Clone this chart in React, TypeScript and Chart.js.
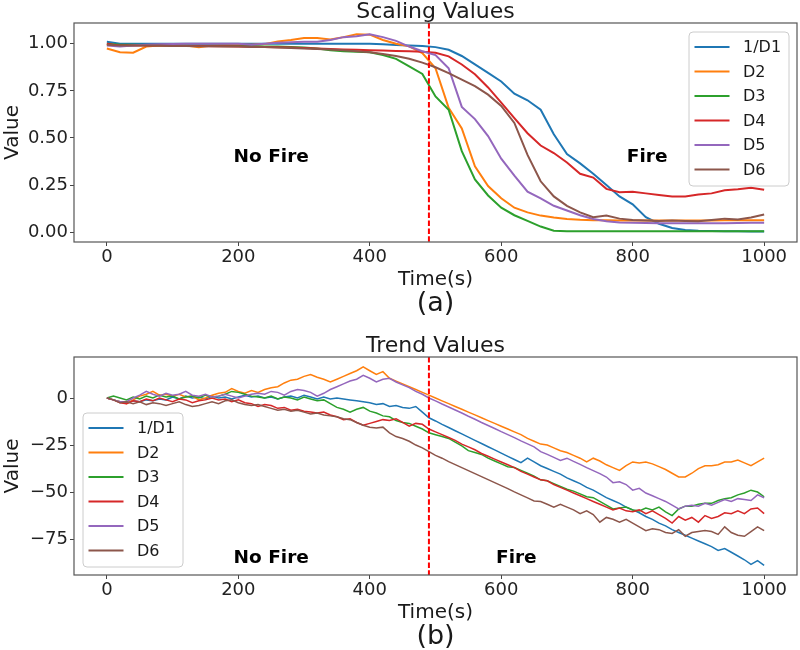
import React, { useEffect, useRef } from "react";
import { Chart, registerables } from "chart.js";

Chart.register(...registerables);

const FONT = '"DejaVu Sans", "Liberation Sans", sans-serif';
const SERIES_NAMES = ["1/D1", "D2", "D3", "D4", "D5", "D6"];
const SERIES_COLORS = ["#1f77b4", "#ff7f0e", "#2ca02c", "#d62728", "#9467bd", "#8c564b"];
const FIRE_TIME = 490;
const X_TICKS = [0, 200, 400, 600, 800, 1000];
const SCALING_Y_TICKS = [0, 0.25, 0.5, 0.75, 1.0];
const TREND_Y_TICKS = [-75, -50, -25, 0];

// ---------- (a) Scaling values, sampled every 20 s ----------
const TIME_SCALING = [0, 20, 40, 60, 80, 100, 120, 140, 160, 180, 200, 220, 240, 260, 280, 300, 320, 340, 360, 380, 400, 420, 440, 460, 480, 500, 520, 540, 560, 580, 600, 620, 640, 660, 680, 700, 720, 740, 760, 780, 800, 820, 840, 860, 880, 900, 920, 940, 960, 980, 1000];

const SCALING_D1 = [1.01, 1.0, 1.0, 1.0, 1.0, 1.0, 1.0, 1.0, 1.0, 1.0,
  1.0, 1.0, 1.0, 1.0, 1.0, 1.0, 1.0, 1.0, 1.0, 1.0,
  1.0, 0.997, 0.993, 0.99, 0.988, 0.982, 0.968, 0.935, 0.89, 0.845,
  0.8, 0.735, 0.7, 0.65, 0.52, 0.415, 0.365, 0.31, 0.25, 0.19,
  0.148, 0.08, 0.045, 0.022, 0.012, 0.008, 0.006, 0.005, 0.005, 0.004,
  0.004];
const SCALING_D2 = [0.975, 0.955, 0.952, 0.985, 0.99, 0.99, 0.99, 0.982, 0.99, 0.993,
  0.995, 0.995, 0.998, 1.012, 1.02, 1.03, 1.03, 1.022, 1.035, 1.05,
  1.048, 1.02, 1.0, 0.986, 0.95, 0.87, 0.66, 0.55, 0.35, 0.245,
  0.18, 0.13, 0.105, 0.088, 0.078, 0.07, 0.066, 0.064, 0.063, 0.062,
  0.062, 0.062, 0.062, 0.062, 0.062, 0.062, 0.062, 0.063, 0.063, 0.064,
  0.064];
const SCALING_D3 = [1.0, 0.995, 0.995, 0.993, 0.99, 0.99, 0.99, 0.99, 0.99, 0.99,
  0.988, 0.988, 0.985, 0.985, 0.983, 0.98, 0.975, 0.965, 0.96, 0.957,
  0.955, 0.94, 0.92, 0.88, 0.84, 0.72, 0.65, 0.43, 0.28, 0.195,
  0.13, 0.09, 0.06, 0.03, 0.008, 0.005, 0.005, 0.005, 0.005, 0.005,
  0.005, 0.005, 0.005, 0.005, 0.005, 0.005, 0.005, 0.005, 0.005, 0.005,
  0.005];
const SCALING_D4 = [1.0, 0.99, 0.99, 0.99, 0.99, 0.99, 0.988, 0.988, 0.987, 0.986,
  0.985, 0.984, 0.983, 0.981, 0.98, 0.978, 0.975, 0.972, 0.97, 0.968,
  0.966, 0.964, 0.962, 0.96, 0.958, 0.952, 0.933, 0.89, 0.838, 0.768,
  0.688, 0.605, 0.525, 0.46, 0.42, 0.37, 0.31, 0.29, 0.23, 0.212,
  0.214, 0.206, 0.198, 0.19, 0.19, 0.2, 0.206, 0.222, 0.228, 0.236,
  0.225];
const SCALING_D5 = [0.99, 0.985, 0.99, 0.995, 0.997, 0.998, 1.0, 1.0, 1.0, 1.0,
  1.0, 0.995, 1.0, 1.005, 1.008, 1.01, 1.01, 1.02, 1.035, 1.04,
  1.05, 1.035, 1.015, 0.985, 0.96, 0.94, 0.87, 0.665, 0.6, 0.51,
  0.39, 0.3, 0.215, 0.18, 0.14, 0.115, 0.09, 0.07, 0.058, 0.052,
  0.05, 0.049, 0.048, 0.048, 0.048, 0.048, 0.048, 0.048, 0.049, 0.05,
  0.05];
const SCALING_D6 = [0.995, 0.99, 0.99, 0.99, 0.99, 0.988, 0.988, 0.987, 0.986, 0.985,
  0.985, 0.983, 0.982, 0.98, 0.978, 0.975, 0.972, 0.97, 0.965, 0.96,
  0.955, 0.945, 0.935, 0.92, 0.9, 0.875, 0.844, 0.81, 0.775, 0.73,
  0.67, 0.58, 0.41, 0.27, 0.19, 0.14, 0.105, 0.08, 0.088, 0.072,
  0.065, 0.062, 0.06, 0.062, 0.06, 0.058, 0.065, 0.072, 0.068, 0.078,
  0.094];

// ---------- (b) Trend values, sampled every 10 s ----------
const TIME_TREND = [0, 10, 20, 30, 40, 50, 60, 70, 80, 90,
  100, 110, 120, 130, 140, 150, 160, 170, 180, 190,
  200, 210, 220, 230, 240, 250, 260, 270, 280, 290,
  300, 310, 320, 330, 340, 350, 360, 370, 380, 390,
  400, 410, 420, 430, 440, 450, 460, 470, 480, 490,
  500, 510, 520, 530, 540, 550, 560, 570, 580, 590,
  600, 610, 620, 630, 640, 650, 660, 670, 680, 690,
  700, 710, 720, 730, 740, 750, 760, 770, 780, 790,
  800, 810, 820, 830, 840, 850, 860, 870, 880, 890,
  900, 910, 920, 930, 940, 950, 960, 970, 980, 990,
  1000];

const TREND_D1 = [0, -1, -2, -2.5, -1.5, -2, -1, -1.5, -0.5, -1,
  0.5, -0.5, 1, 0, 0.5, -0.5, 1, 0, 0.5, -0.5,
  0.5, 1.5, 0.5, 1, 0, 0.5, -0.5, 0.5, 1, 0,
  1.5, 0.5, -0.5, 0.5, -0.5, 0, -0.5, -1, -1.5, -2,
  -2.5, -3.5, -3, -4.5, -4, -5, -5.5, -4.5, -7.5, -10.5,
  -12.2, -14, -15.7, -17.4, -19.1, -20.8, -22.5, -24.2, -25.9, -27.6,
  -29.3, -31, -32.7, -34.4, -32, -34, -36, -37.5, -39, -40.5,
  -42.5, -44, -45.5, -47.5, -49, -51, -53, -54.5, -56, -58,
  -59.5, -61, -63, -64.5, -66.5, -68, -70, -71.5, -73, -74.5,
  -76, -77.5, -79, -81, -80, -82, -84, -86, -88.5, -86.5,
  -89];
const TREND_D2 = [0, -1, -2, -3, -1, 1, 2, 3.5, 1.5, 2,
  1, 2, 0.5, 1, -1, 0, 1.5, 2.5, 3, 5,
  3.5, 2.5, 4, 3, 4.5, 5.5, 6, 8, 9.5, 10,
  11.5, 12.5, 11, 10, 8.5, 10, 11.5, 13, 14.5, 16.5,
  14.5, 12.5, 14, 10.5, 9, 7.5, 6, 4.5, 3, 1.5,
  0, -1.5, -3, -4.5, -6, -7.5, -9, -10.5, -12, -13.5,
  -15, -16.5, -18, -19.5, -21.5, -23, -24.5, -25, -26.5, -28,
  -29, -30.5, -32, -34, -32, -33.5, -35.5, -37, -38.5, -36,
  -34, -34.5, -34, -35, -36.5, -38, -40, -42, -42, -40,
  -37.5, -36, -36, -35.5, -34, -34, -33, -34.5, -36, -34,
  -32];
const TREND_D3 = [0, 1, 0, -1, 0.5, -0.5, 1, 0, 1.5, 0.5,
  1, -0.5, 0.5, 1, 0, 1.5, 0.5, 1, 2, 3.5,
  3, 2, 1, 0.5, 0, 1, -0.5, 0.5, 0, -1,
  0.5, -0.5, -1.5, -1, -3, -5, -6, -7.5, -6, -5,
  -7, -8, -9.5, -10, -12, -13, -13.5, -15, -16.5, -18.5,
  -19.5, -20.5, -21.5, -23.5, -25.5, -28, -29, -30, -32, -33.5,
  -35, -36.5, -37, -38.5, -40, -41.5, -43.5, -44, -45.5, -47,
  -48.5, -49.5, -51, -52.5, -53, -55, -57, -59, -58.5, -58,
  -59.5, -60, -58.5, -59.5, -58, -60.5, -62.5, -59, -57.5, -57.5,
  -56.5, -56, -56, -54.5, -53.5, -53, -51.5, -50.5, -49, -50,
  -52.5];
const TREND_D4 = [0, -1, -2.5, -3, -1.5, -2, -0.5, -1.5, 0, -1,
  -2, -0.5, -1, -2.5, -1.5, -1, 0, -1, -0.5, -2,
  -1, -2.5, -3, -4.5, -3.5, -4, -5.5, -5, -6.5, -6,
  -7, -7.5, -8, -7.5, -9, -10, -11.5, -11, -13, -14.5,
  -13.5, -12.5, -11.5, -12, -11, -13, -15, -13.5, -14, -16.5,
  -18, -19.5, -21, -22.5, -24.5, -26, -27.5, -29.5, -31, -32.5,
  -34, -35.5, -37, -39, -40.5, -42, -43.5, -44, -46, -47.5,
  -49, -50.5, -52, -53.5, -55, -56.5, -58, -59.5, -58.5, -60,
  -60.5, -59.5, -61.5, -60, -62, -64, -66.5, -63, -65, -63.5,
  -66, -62.5, -64, -63, -61, -61.5, -60, -61.5, -59, -58.5,
  -61.5];
const TREND_D5 = [0, -1, -2, -2, 0, 1.5, 3.5, 2, 1, 2.5,
  1.5, 2, 3.5, 1.5, 1, 2, 0.5, 1, 2, 1,
  0, 1, 2, 2.5, 2, 3.5, 3, 1.5, 3.5, 4.5,
  4, 3, 1, 2.5, 4.5, 6, 7.5, 9, 10, 12,
  10.5, 8.5, 10, 10.5, 8.5, 7, 5.5, 3.5, 2, 0,
  -1.5, -3.2, -4.8, -6.4, -8, -9.7, -11.3, -13, -14.6, -16.2,
  -17.9, -19.5, -21.1, -22.8, -24.4, -26, -28.5, -30, -31.6, -33.2,
  -32, -33.7, -35.3, -37, -38.6, -40.2, -42, -45, -44.5, -46,
  -49, -48, -50.5, -52, -53.5, -55, -57, -59, -57.5, -57,
  -57.5, -56, -57, -55.5, -54, -55, -53.5, -54, -54.5, -51.5,
  -53];
const TREND_D6 = [0, -1, -2.5, -2, -3, -2, -3.5, -2.5, -3, -4,
  -3, -2, -3.5, -4.5, -4, -3, -2, -3, -1.5, -1,
  -2.5, -3.5, -4, -3.5, -4.5, -5.5, -6.5, -6, -7, -6.5,
  -7.5, -8.5, -8, -9, -9.5, -10, -11, -11.5, -13, -14.5,
  -15.5, -16, -15.5, -18.5, -20.5, -21.5, -23, -25, -26.5, -28.5,
  -30.5, -32, -33.8, -35.4, -37, -38.6, -40.2, -41.8, -43.4, -45,
  -46.6, -48.2, -49.9, -51.5, -53.1, -54.7, -55, -56.5, -58, -56.5,
  -58, -59.5, -61.5, -60, -62, -66, -63.5, -64.5, -66, -64.5,
  -66.5, -68.5, -70.5, -69.5, -70, -71.5, -72, -70, -73.5, -71.5,
  -71, -70.5, -71, -72.5, -68.5, -71.5, -73, -73.5, -71, -68.5,
  -70.5];

type PanelSpec = {
  title: string;
  tag: string;
  times: number[];
  series: number[][];
  yMin: number;
  yMax: number;
  yTicks: number[];
  yFormat: (v: number) => string;
  lineWidth: number;
  height: number;
  padTop: number;
  xAxisHeight: number;
  legendCorner: "tr" | "bl";
  noFireAt: [number, number];
  fireAt: [number, number];
};

const PANELS: PanelSpec[] = [
  {
    title: "Scaling Values",
    tag: "(a)",
    times: TIME_SCALING,
    series: [SCALING_D1, SCALING_D2, SCALING_D3, SCALING_D4, SCALING_D5, SCALING_D6],
    yMin: -0.052,
    yMax: 1.11,
    yTicks: SCALING_Y_TICKS,
    yFormat: (v) => v.toFixed(2),
    lineWidth: 2,
    height: 320,
    padTop: 23,
    xAxisHeight: 78,
    legendCorner: "tr",
    noFireAt: [250, 0.372],
    fireAt: [822, 0.372],
  },
  {
    title: "Trend Values",
    tag: "(b)",
    times: TIME_TREND,
    series: [TREND_D1, TREND_D2, TREND_D3, TREND_D4, TREND_D5, TREND_D6],
    yMin: -94.1,
    yMax: 21.8,
    yTicks: TREND_Y_TICKS,
    yFormat: (v) => (v < 0 ? "\u2212" + Math.abs(v) : String(v)),
    lineWidth: 1.5,
    height: 330,
    padTop: 37,
    xAxisHeight: 75,
    legendCorner: "bl",
    noFireAt: [250, -87.8],
    fireAt: [623, -87.8],
  },
];

function decorPlugin(p: PanelSpec) {
  return {
    id: "decor",
    afterDatasetsDraw(chart: any) {
      const { ctx, chartArea: a, scales } = chart;
      const xs = scales.x;
      const ys = scales.y;
      ctx.save();

      // fire onset line
      const fx = xs.getPixelForValue(FIRE_TIME);
      ctx.strokeStyle = "#ff0000";
      ctx.lineWidth = 2;
      ctx.setLineDash([5.5, 2.4]);
      ctx.beginPath();
      ctx.moveTo(fx, a.top);
      ctx.lineTo(fx, a.bottom);
      ctx.stroke();
      ctx.setLineDash([]);

      // axes frame
      ctx.strokeStyle = "#555";
      ctx.lineWidth = 1.2;
      ctx.strokeRect(a.left, a.top, a.right - a.left, a.bottom - a.top);

      // region labels
      ctx.fillStyle = "#000";
      ctx.textAlign = "center";
      ctx.textBaseline = "alphabetic";
      ctx.font = `bold 18.5px ${FONT}`;
      ctx.fillText("No Fire", xs.getPixelForValue(p.noFireAt[0]), ys.getPixelForValue(p.noFireAt[1]));
      ctx.fillText("Fire", xs.getPixelForValue(p.fireAt[0]), ys.getPixelForValue(p.fireAt[1]));

      const cx = (a.left + a.right) / 2;
      ctx.fillStyle = "#1a1a1a";
      ctx.font = `22px ${FONT}`;
      ctx.fillText(p.title, cx, a.top - 5);
      ctx.font = `20px ${FONT}`;
      ctx.fillText("Time(s)", cx, a.bottom + 42.5);
      ctx.font = `27px ${FONT}`;
      ctx.fillText(p.tag, cx, a.bottom + 68.5);

      ctx.save();
      ctx.font = `20px ${FONT}`;
      ctx.translate(18, (a.top + a.bottom) / 2);
      ctx.rotate(-Math.PI / 2);
      ctx.fillText("Value", 0, 0);
      ctx.restore();

      // legend
      const boxW = 100;
      const boxH = 154;
      const rowH = 24.5;
      const bx = p.legendCorner === "tr" ? a.right - 8 - boxW : a.left + 9;
      const by = p.legendCorner === "tr" ? a.top + 9 : a.bottom - 8 - boxH;
      ctx.beginPath();
      if (ctx.roundRect) ctx.roundRect(bx, by, boxW, boxH, 4);
      else ctx.rect(bx, by, boxW, boxH);
      ctx.fillStyle = "rgba(255,255,255,0.8)";
      ctx.fill();
      ctx.strokeStyle = "#cccccc";
      ctx.lineWidth = 1;
      ctx.stroke();
      ctx.font = `16px ${FONT}`;
      ctx.textAlign = "left";
      ctx.textBaseline = "middle";
      SERIES_NAMES.forEach((name, i) => {
        const cy = by + 15 + i * rowH;
        ctx.strokeStyle = SERIES_COLORS[i];
        ctx.lineWidth = 2;
        ctx.beginPath();
        ctx.moveTo(bx + 5.5, cy);
        ctx.lineTo(bx + 40.5, cy);
        ctx.stroke();
        ctx.fillStyle = "#1a1a1a";
        ctx.fillText(name, bx + 54, cy + 1);
      });

      ctx.restore();
    },
  };
}

function buildConfig(p: PanelSpec): any {
  const datasets = p.series.map((vals, i) => ({
    label: SERIES_NAMES[i],
    data: p.times.map((t, j) => ({ x: t, y: vals[j] })),
    borderColor: SERIES_COLORS[i],
    backgroundColor: SERIES_COLORS[i],
    borderWidth: p.lineWidth,
    pointRadius: 0,
    tension: 0,
    fill: false,
    order: SERIES_NAMES.length - i,
  }));
  const tickFont = { family: FONT, size: 18 };
  return {
    type: "line",
    data: { datasets },
    options: {
      animation: false,
      responsive: false,
      devicePixelRatio: 1,
      layout: { padding: { top: p.padTop, right: 3, bottom: 0, left: 0 } },
      plugins: { legend: { display: false }, title: { display: false }, tooltip: { enabled: false } },
      scales: {
        x: {
          type: "linear",
          min: -50,
          max: 1050,
          afterBuildTicks: (s: any) => {
            s.ticks = X_TICKS.map((v) => ({ value: v }));
          },
          afterFit: (s: any) => {
            s.height = p.xAxisHeight;
          },
          grid: { display: true, drawOnChartArea: false, drawTicks: true, tickLength: 4, color: "#444", lineWidth: 1 },
          border: { display: false },
          ticks: {
            font: tickFont,
            color: "#222",
            padding: 1,
            maxRotation: 0,
            autoSkip: false,
            callback: (v: any) => String(v),
          },
        },
        y: {
          type: "linear",
          min: p.yMin,
          max: p.yMax,
          afterBuildTicks: (s: any) => {
            s.ticks = p.yTicks.map((v) => ({ value: v }));
          },
          afterFit: (s: any) => {
            s.width = 74;
          },
          grid: { display: true, drawOnChartArea: false, drawTicks: true, tickLength: 4, color: "#444", lineWidth: 1 },
          border: { display: false },
          ticks: {
            font: tickFont,
            color: "#222",
            padding: 2,
            autoSkip: false,
            callback: (v: any) => p.yFormat(Number(v)),
          },
        },
      },
    },
    plugins: [decorPlugin(p)],
  };
}

function Panel({ spec, top }: { spec: PanelSpec; top: number }) {
  const ref = useRef<HTMLCanvasElement>(null);
  useEffect(() => {
    if (!ref.current) return;
    const chart = new Chart(ref.current, buildConfig(spec));
    return () => chart.destroy();
  }, [spec]);
  return (
    <canvas
      ref={ref}
      width={800}
      height={spec.height}
      style={{ position: "absolute", left: 0, top, width: 800, height: spec.height, display: "block" }}
    />
  );
}

export default function App() {
  return (
    <div style={{ position: "fixed", left: 0, top: 0, width: 800, height: 650, background: "#fff", overflow: "hidden" }}>
      <Panel spec={PANELS[0]} top={0} />
      <Panel spec={PANELS[1]} top={PANELS[0].height} />
    </div>
  );
}
